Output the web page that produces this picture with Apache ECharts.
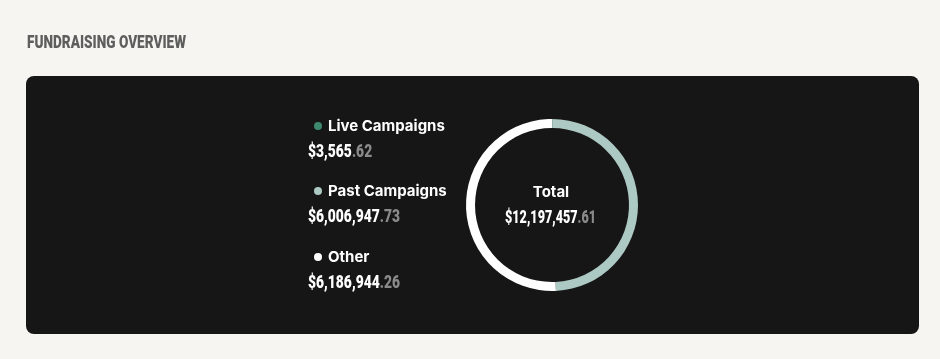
<!DOCTYPE html>
<html><head><meta charset="utf-8">
<script src="https://cdn.jsdelivr.net/npm/echarts@6/dist/echarts.min.js"></script>
<style>html,body{margin:0;padding:0;background:#f6f5f1;}#c{width:940px;height:359px;}</style>
</head><body><div id="c"></div>
<script>
const title = 'FUNDRAISING OVERVIEW';
const categories = ['Live Campaigns', 'Past Campaigns', 'Other'];
const values = [3565.62, 6006947.73, 6186944.26];
const colors = ['#3d8a6f', '#adc9c3', '#ffffff'];
const totalLabel = 'Total';

function fmt(v) {
  const s = v.toFixed(2).split('.');
  return { int: '$' + s[0].replace(/\B(?=(\d{3})+(?!\d))/g, ','), dec: '.' + s[1] };
}
const total = values.reduce((a, b) => a + b, 0);
const chart = echarts.init(document.getElementById('c'), null, { renderer: 'canvas' });
const valFont = 'Roboto, sans-serif';
const labFont = 'Inter, "Noto Sans", sans-serif';

// fit a string set in a given font to a target width (for a condensed look)
const mctx = document.createElement('canvas').getContext('2d');
function fitScale(text, font, target) { mctx.font = font; return target / mctx.measureText(text).width; }

const titleFont = '900 19px ' + valFont;
const vFont = '900 18px ' + valFont;
const VSX = fitScale('$6,186,944.26', vFont, 92);
const tf = fmt(total);
const TSX = fitScale(tf.int + tf.dec, vFont, 91);

const graphics = [
  { type: 'text', x: 27, y: 43, scaleX: fitScale(title, titleFont, 159), style: { text: title, font: titleFont, fill: '#5e5e5e', verticalAlign: 'middle' } },
  { type: 'rect', shape: { x: 26, y: 76, width: 893, height: 258, r: 8 }, style: { fill: '#161616' }, z: -1 }
];
const rowY = [126, 191, 257];
const valRich = { a: { font: vFont, fill: '#ffffff' }, b: { font: vFont, fill: '#8a8a8a' } };
categories.forEach((c, i) => {
  graphics.push({ type: 'circle', shape: { cx: 318, cy: rowY[i], r: 4 }, style: { fill: colors[i] } });
  graphics.push({ type: 'text', x: 328, y: rowY[i], style: { text: c, font: '700 15px ' + labFont, fill: '#ffffff', verticalAlign: 'middle' } });
  const f = fmt(values[i]);
  graphics.push({ type: 'text', x: 308, y: rowY[i] + 26, scaleX: VSX, style: {
    text: '{a|' + f.int + '}{b|' + f.dec + '}', verticalAlign: 'middle', rich: valRich
  } });
});
graphics.push({ type: 'text', x: 551, y: 192, style: { text: totalLabel, font: '700 15px ' + labFont, fill: '#ffffff', align: 'center', verticalAlign: 'middle' } });
graphics.push({ type: 'text', x: 550.5, y: 218, scaleX: TSX, style: {
  text: '{a|' + tf.int + '}{b|' + tf.dec + '}', align: 'center', verticalAlign: 'middle', rich: valRich
} });

chart.setOption({
  animation: false,
  backgroundColor: '#f6f5f1',
  graphic: graphics,
  series: [{
    type: 'pie',
    center: [552, 205],
    radius: [77, 86],
    startAngle: 90,
    clockwise: true,
    label: { show: false },
    labelLine: { show: false },
    emphasis: { disabled: true },
    itemStyle: { borderWidth: 0 },
    z: 5,
    data: categories.map((c, i) => ({ name: c, value: values[i], itemStyle: { color: colors[i] } }))
  }]
});
</script></body></html>
